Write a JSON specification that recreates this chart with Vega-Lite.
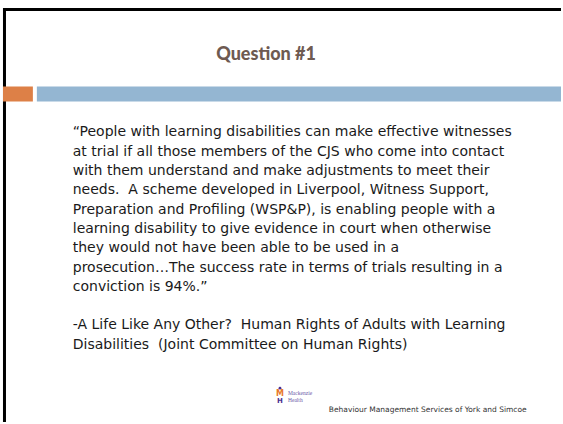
{
  "$schema": "https://vega.github.io/schema/vega-lite/v6.json",
  "width": 563,
  "height": 424,
  "autosize": {"type": "fit", "contains": "padding"},
  "padding": 0,
  "background": "white",
  "config": {"view": {"stroke": null}},
  "resolve": {"scale": {"y": "independent"}},
  "layer": [
    {
      "data": {"values": [{"slide": "Question #1"}]},
      "layer": [
        {
          "mark": {"type": "rule", "color": "#000000", "strokeWidth": 3},
          "encoding": {
            "x": {"datum": 4.5, "type": "quantitative", "scale": {"domain": [0, 563], "nice": false, "zero": false}, "axis": null},
            "y": {"datum": 8, "type": "quantitative", "scale": {"domain": [0, 424], "reverse": true, "nice": false, "zero": false}, "axis": null},
            "y2": {"datum": 424}
          }
        },
        {
          "mark": {"type": "rule", "color": "#000000", "strokeWidth": 3},
          "encoding": {
            "x": {"datum": 3, "type": "quantitative"},
            "x2": {"datum": 563},
            "y": {"datum": 9.5, "type": "quantitative"}
          }
        },
        {
          "mark": {"type": "rect", "color": "#dd8047"},
          "encoding": {
            "x": {"datum": 3, "type": "quantitative"},
            "x2": {"datum": 33},
            "y": {"datum": 87, "type": "quantitative"},
            "y2": {"datum": 102}
          }
        },
        {
          "mark": {"type": "rect", "color": "#94b6d2"},
          "encoding": {
            "x": {"datum": 37, "type": "quantitative"},
            "x2": {"datum": 563},
            "y": {"datum": 87, "type": "quantitative"},
            "y2": {"datum": 102}
          }
        },
        {
          "mark": {"type": "text", "font": "Lato", "fontWeight": 900, "fontSize": 18, "color": "#6e5a51", "align": "center", "baseline": "alphabetic"},
          "encoding": {
            "x": {"datum": 267, "type": "quantitative"},
            "y": {"datum": 60, "type": "quantitative"},
            "text": {"field": "slide"}
          }
        },
        {
          "data": {"values": [{"text": "Behaviour Management Services of York and Simcoe"}]},
          "mark": {"type": "text", "font": "DejaVu Sans", "fontSize": 7.5, "color": "#333333", "align": "left", "baseline": "middle"},
          "encoding": {
            "x": {"datum": 330, "type": "quantitative"},
            "y": {"datum": 412, "type": "quantitative"},
            "text": {"field": "text"}
          }
        },
        {
          "data": {"values": [{"text": "Mackenzie"}]},
          "mark": {"type": "text", "font": "Liberation Serif", "fontSize": 5.5, "color": "#6a5aa8", "align": "left", "baseline": "middle"},
          "encoding": {
            "x": {"datum": 289, "type": "quantitative"},
            "y": {"datum": 395, "type": "quantitative"},
            "text": {"field": "text"}
          }
        },
        {
          "data": {"values": [{"text": "Health"}]},
          "mark": {"type": "text", "font": "Liberation Serif", "fontSize": 5.5, "color": "#6a5aa8", "align": "left", "baseline": "middle"},
          "encoding": {
            "x": {"datum": 289, "type": "quantitative"},
            "y": {"datum": 401.5, "type": "quantitative"},
            "text": {"field": "text"}
          }
        },
        {
          "mark": {"type": "point", "filled": true, "color": "#4b2f8f", "size": 8, "opacity": 1},
          "encoding": {
            "x": {"datum": 281, "type": "quantitative"},
            "y": {"datum": 390, "type": "quantitative"}
          }
        },
        {
          "data": {"values": [{"text": "M"}]},
          "mark": {"type": "text", "font": "DejaVu Sans", "fontWeight": "bold", "fontSize": 8, "color": "#e8782a", "align": "center", "baseline": "middle"},
          "encoding": {
            "x": {"datum": 281, "type": "quantitative"},
            "y": {"datum": 395.5, "type": "quantitative"},
            "text": {"field": "text"}
          }
        },
        {
          "data": {"values": [{"text": "H"}]},
          "mark": {"type": "text", "font": "DejaVu Sans", "fontWeight": "bold", "fontSize": 7, "color": "#4b2f8f", "align": "center", "baseline": "top"},
          "encoding": {
            "x": {"datum": 281, "type": "quantitative"},
            "y": {"datum": 399, "type": "quantitative"},
            "text": {"field": "text"}
          }
        }
      ]
    },
    {
      "data": {
        "values": [
          {"line": 1, "text": "“People with learning disabilities can make effective witnesses"},
          {"line": 2, "text": "at trial if all those members of the CJS who come into contact"},
          {"line": 3, "text": "with them understand and make adjustments to meet their"},
          {"line": 4, "text": "needs.\u00a0 A scheme developed in Liverpool, Witness Support,"},
          {"line": 5, "text": "Preparation and Profiling (WSP&P), is enabling people with a"},
          {"line": 6, "text": "learning disability to give evidence in court when otherwise"},
          {"line": 7, "text": "they would not have been able to be used in a"},
          {"line": 8, "text": "prosecution…The success rate in terms of trials resulting in a"},
          {"line": 9, "text": "conviction is 94%.”"},
          {"line": 11, "text": "-A Life Like Any Other?\u00a0 Human Rights of Adults with Learning"},
          {"line": 12, "text": "Disabilities\u00a0 (Joint Committee on Human Rights)"}
        ]
      },
      "mark": {"type": "text", "font": "DejaVu Sans", "fontSize": 14, "color": "#1a1a1a", "align": "left", "baseline": "middle"},
      "encoding": {
        "x": {"datum": 73, "type": "quantitative"},
        "y": {"field": "line", "type": "quantitative", "scale": {"domain": [-5.856, 16.0], "reverse": true, "nice": false, "zero": false}, "axis": null},
        "text": {"field": "text"}
      }
    }
  ]
}
